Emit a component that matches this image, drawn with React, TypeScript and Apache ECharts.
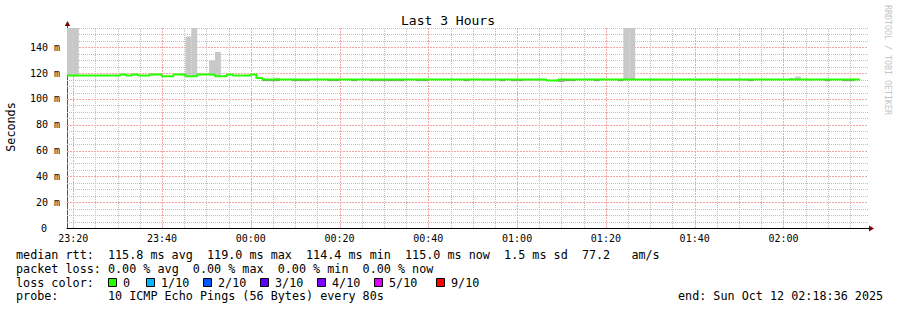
import React, { useEffect, useRef } from 'react';
import * as echarts from 'echarts';

// ---------- data ----------
const title = 'Last 3 Hours';
const yAxisTitle = 'Seconds';
const watermark = 'RRDTOOL / TOBI OETIKER';
const startMinute = 18.6; // minutes after 23:00 -> 23:18:36
const spanMinutes = 180;
const stepSeconds = 80;
const yMax = 155;
const xTickMinutes = [20, 40, 60, 80, 100, 120, 140, 160, 180];

// median rtt (ms) per 80 s step
const medianRtt = [
  118.1, 118.1, 118.1, 118.1, 118.1, 118.1, 118.1, 118.1, 118.1, 119.0,
  118.1, 119.0, 118.1, 118.1, 119.0, 119.0, 117.7, 117.7, 119.0, 119.0,
  117.7, 117.7, 119.0, 119.0, 119.0, 117.7, 117.7, 119.0, 118.2, 118.2,
  118.2, 119.0, 116.2, 115.0, 115.0, 115.0, 115.0, 115.0, 115.0, 115.0,
  115.0, 115.0, 115.0, 115.0, 115.0, 115.0, 115.0, 115.0, 115.0, 115.0,
  115.0, 115.0, 115.0, 115.0, 115.0, 115.0, 115.0, 115.0, 115.0, 115.0,
  115.0, 115.0, 115.0, 115.0, 115.0, 115.0, 115.0, 115.0, 115.0, 115.0,
  115.0, 115.0, 115.0, 115.0, 115.0, 115.0, 115.0, 115.0, 115.0, 115.0,
  115.0, 114.4, 114.4, 115.0, 115.0, 115.0, 115.0, 115.0, 115.0, 115.0,
  115.0, 115.0, 115.0, 115.0, 115.0, 115.0, 115.0, 115.0, 115.0, 115.0,
  115.0, 115.0, 115.0, 115.0, 115.0, 115.0, 115.0, 115.0, 115.0, 115.0,
  115.0, 115.0, 115.0, 115.0, 115.0, 115.0, 115.0, 115.0, 115.0, 115.0,
  115.0, 115.0, 115.0, 115.0, 115.0, 115.0, 115.0, 115.0, 115.0, 115.0,
  115.0, 115.0, 115.0, 115.0,
];

// outer smoke (light): [step, low ms, high ms]
const smokeOuter: [number, number, number][] = [
  [0, 117.4, 160], [1, 117.4, 160],
  [20, 117.0, 148.4], [21, 117.0, 160],
  [24, 118.2, 129.8], [25, 117.0, 136.5],
  [35, 115.0, 116.4],
  [70, 113.9, 115.0], [71, 113.9, 115.0],
  [77, 113.9, 115.0], [78, 113.9, 115.0], [79, 113.9, 115.0], [80, 113.9, 115.0],
  [94, 114.6, 160], [95, 114.6, 160],
  [98, 113.9, 115.0], [99, 113.9, 115.0], [100, 113.9, 115.0], [101, 113.9, 115.0],
  [106, 113.9, 115.0],
  [110, 113.9, 115.0], [111, 113.9, 115.0], [112, 113.9, 115.0], [113, 113.9, 115.0], [114, 113.9, 115.0],
  [122, 114.6, 116.3], [123, 114.6, 117.4],
  [125, 113.9, 115.0],
];

// inner smoke (dark): [step, low ms, high ms]
const smokeInner: [number, number, number][] = [
  [33, 113.8, 115.0], [34, 113.8, 115.0], [35, 113.8, 115.0],
  [38, 113.8, 115.0], [39, 113.8, 115.0], [40, 113.8, 115.0],
  [44, 113.8, 115.0], [45, 113.8, 115.0], [48, 113.8, 115.0],
  [51, 113.8, 115.0], [52, 113.8, 115.0], [53, 113.8, 115.0],
  [54, 113.8, 115.0], [55, 113.8, 115.0], [56, 113.8, 115.0],
  [59, 113.8, 115.0], [60, 113.8, 115.0], [67, 113.8, 115.0],
  [73, 113.8, 115.0], [75, 113.8, 115.0], [76, 113.8, 115.0],
  [83, 113.3, 114.4], [84, 113.8, 115.0], [85, 113.8, 115.0],
  [89, 113.8, 115.0], [93, 113.8, 115.0], [115, 113.8, 115.0],
  [128, 113.8, 115.0], [131, 113.8, 115.0], [132, 113.8, 115.0],
];

const statsLine1 = 'median rtt:  115.8 ms avg  119.0 ms max  114.4 ms min  115.0 ms now  1.5 ms sd  77.2   am/s';
const statsLine2 = 'packet loss: 0.00 % avg  0.00 % max  0.00 % min  0.00 % now';
const statsLine3 = 'loss color:';
const statsLine4 = 'probe:       10 ICMP Echo Pings (56 Bytes) every 80s';
const endLine = 'end: Sun Oct 12 02:18:36 2025';
const lossLabels = ['0', '1/10', '2/10', '3/10', '4/10', '5/10', '9/10'];
const lossColors = ['#26ff00', '#00b8ff', '#0059ff', '#5e00ff', '#7e00ff', '#dd00ff', '#ff0000'];

// ---------- layout / style ----------
const W = 897;
const H = 310;
const MONO = '"DejaVu Sans Mono", monospace';
const LEG_FS = 11.75;
const CW = LEG_FS * 0.602;
const GRID = { left: 67, top: 28, width: 799, height: 200 };
const MINOR = '#c0c0c0';
const MAJOR = '#f4a6a6';
const lossBoxX = [108, 146, 203, 260, 317, 374, 436];

function fmtTime(v: number) {
  const t = Math.round(23 * 60 + v) % 1440;
  const h = Math.floor(t / 60);
  const m = t % 60;
  return `${String(h).padStart(2, '0')}:${String(m).padStart(2, '0')}`;
}

function monoRow(str: string, x0: number, y: number) {
  const out: any[] = [];
  const re = /\S+(?: \S+)*/g;
  let m: RegExpExecArray | null;
  while ((m = re.exec(str))) {
    out.push({
      type: 'text',
      x: x0 + m.index * CW,
      y,
      silent: true,
      style: { text: m[0], font: `${LEG_FS}px ${MONO}`, fill: '#000', textAlign: 'left', textVerticalAlign: 'middle' },
    });
  }
  return out;
}

export default function App() {
  const ref = useRef<HTMLDivElement>(null);

  useEffect(() => {
    document.body.style.margin = '0';
    if (!ref.current) return;
    const chart = echarts.init(ref.current, undefined, { renderer: 'svg' });
    const tAt = (k: number) => startMinute + (k * stepSeconds) / 60;

    const lineData: [number, number][] = medianRtt.map((v, k) => [tAt(k), v]);
    lineData.push([tAt(medianRtt.length), medianRtt[medianRtt.length - 1]]);
    const outerData = smokeOuter.map(([k, lo, hi]) => [tAt(k), tAt(k + 1), lo, hi]);
    const innerData = smokeInner.map(([k, lo, hi]) => [tAt(k), tAt(k + 1), lo, hi]);

    const vMinor: number[] = [];
    const vMajor: number[] = [];
    for (let m = 20; m < startMinute + spanMinutes; m += 5) (m % 20 === 0 ? vMajor : vMinor).push(m);
    const hMinor: number[] = [];
    const hMajor: number[] = [];
    for (let v = 5; v <= yMax; v += 5) (v % 20 === 0 ? hMajor : hMinor).push(v);

    const gridSeries = (xs: number[], ys: number[], stroke: string, z: number, dash: number[] | null) => ({
      type: 'custom',
      z,
      silent: true,
      clip: false,
      data: [[startMinute + 1, 1]],
      renderItem: (params: any, api: any) => {
        const cs = params.coordSys;
        const children: any[] = [];
        xs.forEach((m) => {
          const px = Math.round(api.coord([m, 0])[0]) + 0.5;
          children.push({
            type: 'line',
            shape: { x1: px, y1: cs.y + cs.height, x2: px, y2: cs.y },
            style: dash ? { stroke, lineWidth: 1, lineDash: dash } : { stroke, lineWidth: 1 },
          });
        });
        ys.forEach((v) => {
          const py = Math.round(api.coord([startMinute, v])[1]) + 0.5;
          children.push({
            type: 'line',
            shape: { x1: cs.x, y1: py, x2: cs.x + cs.width + 2, y2: py },
            style: dash ? { stroke, lineWidth: 1, lineDash: dash } : { stroke, lineWidth: 1 },
          });
        });
        return { type: 'group', children };
      },
    });

    const makeRender = (fill: string) => (params: any, api: any) => {
      const p1 = api.coord([api.value(0), api.value(3)]);
      const p2 = api.coord([api.value(1), api.value(2)]);
      const top = Math.max(p1[1], params.coordSys.y);
      return {
        type: 'rect',
        shape: { x: p1[0], y: top, width: p2[0] - p1[0], height: p2[1] - top },
        style: { fill },
      };
    };

    const graphics: any[] = [
      {
        type: 'text', x: 448, y: 20, silent: true,
        style: { text: title, font: `13px ${MONO}`, fill: '#000', textAlign: 'center', textVerticalAlign: 'middle' },
      },
      {
        type: 'text', x: 11, y: 127, rotation: Math.PI / 2, silent: true,
        style: { text: yAxisTitle, font: `${LEG_FS}px ${MONO}`, fill: '#000', textAlign: 'center', textVerticalAlign: 'middle' },
      },
      {
        type: 'text', x: 888, y: 60, rotation: -Math.PI / 2, silent: true,
        style: { text: watermark, font: `8.3px ${MONO}`, fill: '#c4c4c4', textAlign: 'center', textVerticalAlign: 'middle' },
      },
      { type: 'line', silent: true, shape: { x1: 67.5, y1: 28, x2: 67.5, y2: 25 }, style: { stroke: '#555', lineWidth: 1 } },
      { type: 'line', silent: true, shape: { x1: 866, y1: 228.5, x2: 870, y2: 228.5 }, style: { stroke: '#000', lineWidth: 1 } },
      { type: 'polygon', silent: true, shape: { points: [[64.8, 26], [67.5, 21], [70.2, 26]] }, style: { fill: '#7f0000' } },
      { type: 'polygon', silent: true, shape: { points: [[869, 225.5], [874, 228.5], [869, 231.5]] }, style: { fill: '#7f0000' } },
      ...monoRow(statsLine1, 16, 255),
      ...monoRow(statsLine2, 16, 268.8),
      ...monoRow(statsLine3, 16, 282.5),
      ...monoRow(statsLine4, 16, 296.2),
      ...monoRow(endLine, 678, 296.2),
    ];
    lossLabels.forEach((lab, i) => {
      graphics.push({
        type: 'rect', silent: true,
        shape: { x: lossBoxX[i] + 0.5, y: 278.5, width: 8, height: 8 },
        style: { fill: lossColors[i], stroke: '#000', lineWidth: 1 },
      });
      graphics.push({
        type: 'text', x: lossBoxX[i] + 15, y: 282.5, silent: true,
        style: { text: lab, font: `${LEG_FS}px ${MONO}`, fill: '#000', textAlign: 'left', textVerticalAlign: 'middle' },
      });
    });

    chart.setOption({
      animation: false,
      backgroundColor: '#fff',
      grid: { ...GRID, containLabel: false },
      xAxis: {
        type: 'value',
        min: startMinute,
        max: startMinute + spanMinutes,
        axisLine: { show: true, onZero: false, lineStyle: { color: '#000', width: 1 } },
        axisTick: { show: false },
        splitLine: { show: false },
        axisLabel: {
          customValues: xTickMinutes,
          formatter: (v: number) => fmtTime(v),
          fontFamily: MONO,
          fontSize: 10,
          color: '#000',
          margin: 5,
        },
      },
      yAxis: {
        type: 'value',
        min: 0,
        max: yMax,
        interval: 5,
        axisLine: { show: true, lineStyle: { color: '#555', width: 1 } },
        axisTick: { show: false },
        splitLine: { show: false },
        axisLabel: {
          formatter: (v: number) => (v % 20 === 0 ? (v === 0 ? '{z|0}' : `${v} m`) : ''),
          fontFamily: MONO,
          fontSize: 10,
          color: '#000',
          margin: 7,
          rich: { z: { fontFamily: MONO, fontSize: 10, color: '#000', padding: [0, 13, 0, 0] } },
        },
      },
      series: [
        gridSeries(vMinor, hMinor, MINOR, 1, [1, 1]),
        gridSeries(vMajor, hMajor, MAJOR, 1.5, [2, 1]),
        {
          type: 'custom',
          z: 2,
          silent: true,
          data: outerData,
          encode: { x: [0, 1], y: [2, 3] },
          renderItem: makeRender('#c8c8c8'),
        },
        {
          type: 'custom',
          z: 3,
          silent: true,
          data: innerData,
          encode: { x: [0, 1], y: [2, 3] },
          renderItem: makeRender('#8a8a8a'),
        },
        {
          type: 'line',
          z: 4,
          data: lineData,
          step: 'end',
          symbol: 'none',
          silent: true,
          lineStyle: { color: '#26ff00', width: 2 },
        },
      ],
      graphic: graphics,
    });

    return () => chart.dispose();
  }, []);

  return <div ref={ref} style={{ width: W, height: H }} />;
}
